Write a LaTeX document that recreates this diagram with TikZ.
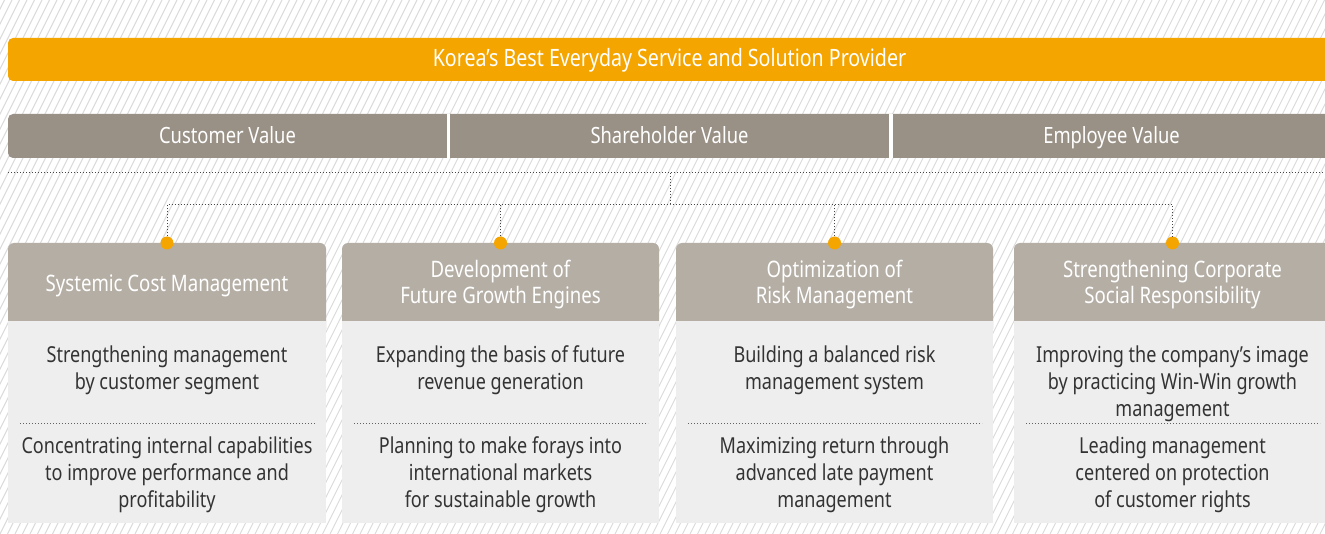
\documentclass[tikz,border=0pt]{standalone}
\usepackage{fontspec}
\setmainfont{Noto Sans}[FakeStretch=0.82]
\definecolor{orangebar}{RGB}{245,165,0}
\definecolor{valbar}{RGB}{154,145,134}
\definecolor{hdrcol}{RGB}{181,174,165}
\definecolor{bodycol}{RGB}{238,238,238}
\definecolor{bodytext}{RGB}{51,51,51}
\definecolor{hatchcol}{RGB}{218,218,218}
\definecolor{dotcol}{RGB}{70,70,70}
\begin{document}
\begin{tikzpicture}[x=1pt,y=-1pt,
  hatch/.style={draw=hatchcol,line width=0.9pt},
  toptxt/.style={text=white,inner sep=0pt,anchor=base,font=\fontsize{23.9}{27}\selectfont},
  valtxt/.style={text=white,inner sep=0pt,anchor=base,font=\fontsize{22.4}{27}\selectfont},
  hdrtxt/.style={text=white,inner sep=0pt,anchor=north,align=center,font=\fontsize{22.7}{26}\selectfont},
  bodytxt/.style={text=bodytext,inner sep=0pt,anchor=north,align=center,font=\fontsize{22}{27}\selectfont},
  dot/.style={circle,fill=orangebar,minimum size=13pt,inner sep=0pt},
  dotline/.style={draw=dotcol,line width=1pt,dash pattern=on 1pt off 2pt},
  sepline/.style={draw=dotcol!85,line width=0.9pt,dash pattern=on 1pt off 2pt}]
\useasboundingbox (0,0) rectangle (1325,534);
\begin{scope}
\clip (0,0) rectangle (1325,534);
\fill[white] (0,0) rectangle (1325,534);
\foreach \i in {-37,...,178} \draw[hatch] ({\i*7.5},534) -- ++(267,-534);
% vision bar
\fill[orangebar,rounded corners=5pt] (8,38) rectangle (1331,81);
\node[toptxt] (vision) at (669.5,67) {Korea’s Best Everyday Service and Solution Provider};
% value bars
\fill[valbar,rounded corners=5pt] (8,114) rectangle (1331,158);
\fill[white] (447,114) rectangle (450,158);
\fill[white] (889,114) rectangle (893,158);
\node[valtxt] (cv) at (227.5,144) {Customer Value};
\node[valtxt] (sv) at (669.5,144) {Shareholder Value};
\node[valtxt] (ev) at (1111.5,144) {Employee Value};
% cards
\foreach \xa/\xb/\n/\hy/\htext/\ta/\tb in {
  8/326/1/272.8/{Systemic Cost Management}/{Strengthening management\\by customer segment}/{Concentrating internal capabilities\\to improve performance and\\profitability},
  342/659/2/258.8/{Development of\\Future Growth Engines}/{Expanding the basis of future\\revenue generation}/{Planning to make forays into\\international markets\\for sustainable growth},
  676/993/3/258.8/{Optimization of\\Risk Management}/{Building a balanced risk\\management system}/{Maximizing return through\\advanced late payment\\management},
  1014/1331/4/258.8/{Strengthening Corporate\\Social Responsibility}/{Improving the company’s image\\by practicing Win-Win growth\\management}/{Leading management\\centered on protection\\of customer rights}}{
  \fill[hdrcol,rounded corners=6pt] (\xa,243) rectangle (\xb,335);
  \fill[bodycol] (\xa,321) rectangle (\xb,523);
  \node[hdrtxt] (h\n) at ({(\xa+\xb)/2},\hy) {\strut\htext};
  \node[bodytxt] (a\n) at ({(\xa+\xb)/2},343.1) {\strut\ta};
  \node[bodytxt] (b\n) at ({(\xa+\xb)/2},434.1) {\strut\tb};
  \draw[sepline] (\xa+12,423) -- (\xb-11,423);
  \node[dot] (d\n) at ({(\xa+\xb)/2},243) {};
}
% connectors
\coordinate (left) at (8,173);
\coordinate (right) at (1325,173);
\coordinate (hub) at (670,173);
\coordinate (knee) at (670,205);
\draw[dotline] (left) -- (right);
\draw[dotline] (hub) -- (knee);
\draw[dotline] (d1) |- (knee) -| (d4);
\draw[dotline] (d2) -- (d2 |- knee);
\draw[dotline] (d3) -- (d3 |- knee);
\end{scope}
\end{tikzpicture}
\end{document}
